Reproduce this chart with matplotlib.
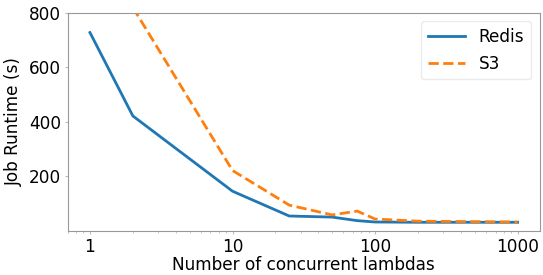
import matplotlib
matplotlib.use("Agg")
import matplotlib.pyplot as plt

# -----------------------------
# Data
# -----------------------------
redis_x = [1, 2, 10, 25, 50, 75, 100, 200, 1000]
redis_y = [728, 422, 146, 55, 51, 38, 33, 32, 32]

s3_x = [2, 10, 25, 50, 75, 100, 200, 1000]
s3_y = [820, 222, 95, 59, 73, 44, 36, 33]

# -----------------------------
# Plot
# -----------------------------
plt.rcParams["font.size"] = 12.2

fig = plt.figure(figsize=(5.43, 2.75), dpi=100)
ax = fig.add_axes([0.125, 0.16, 0.869, 0.793])

ax.plot(redis_x, redis_y, color="#1f77b4", lw=2, label="Redis")
ax.plot(s3_x, s3_y, color="#ff7f0e", lw=2, ls="--", label="S3")

ax.set_xscale("log")
ax.set_xlim(0.70, 1430)
ax.set_ylim(0, 800)
ax.set_xticks([1, 10, 100, 1000])
ax.set_xticklabels(["1", "10", "100", "1000"])
ax.set_yticks([200, 400, 600, 800])

for sp in ax.spines.values():
    sp.set_color("#999999")
ax.tick_params(which="both", color="#bbbbbb", length=2, pad=3)
ax.tick_params(which="minor", length=1.5)

ax.set_xlabel("Number of concurrent lambdas", labelpad=0)
ax.set_ylabel("Job Runtime (s)")
ax.legend(loc="upper right", handlelength=2.2, edgecolor="#e6e6e6")

fig.savefig("out.png", dpi=100)
